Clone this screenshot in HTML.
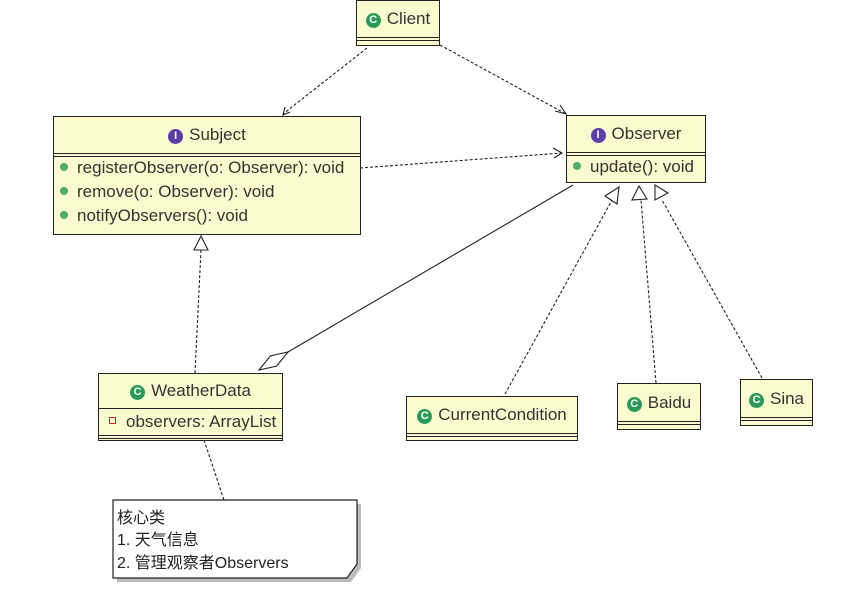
<!DOCTYPE html>
<html><head><meta charset="utf-8"><style>
body{margin:0;width:862px;height:609px;background:#fff;position:relative;overflow:hidden;font-family:"Liberation Sans","Noto Sans CJK SC",sans-serif;color:#333}
.b{position:absolute;background:#fbfbd0;border:1.5px solid #222;box-sizing:border-box;font-size:17px}
.t{text-align:center;position:relative;white-space:nowrap}
.dl{position:absolute;left:0;right:0;height:2px;border-top:1.5px solid #222;border-bottom:1.5px solid #222}
.ic{display:inline-block;width:15px;height:15px;border-radius:50%;color:#fff;font-size:11px;font-weight:bold;line-height:15px;text-align:center;vertical-align:1px;margin-right:6px}
.g{background:#2a9a58}.p{background:#5b3fa8}
.m{padding-left:6px;line-height:24px;white-space:nowrap}
.m i{display:inline-block;width:8px;height:8px;border-radius:50%;background:#4caf6a;margin-right:9px;vertical-align:2px}
</style></head><body>
<svg width="862" height="609" style="position:absolute;left:0;top:0">
<g stroke="#222" stroke-width="1.1" fill="none" stroke-dasharray="3,2">
<path d="M367 48 L283 114"/><path d="M440 45 L566 114"/><path d="M360 168 L562 153"/>
<path d="M195 373 L201 250"/><path d="M505 394 L612 200"/><path d="M656 383 L641 200"/><path d="M762 378 L662 200"/>
<path d="M204 440 L224 500"/>
</g>
<g stroke="#222" stroke-width="1.1" fill="none">
<path d="M290 112 L283 115 L285 107"/><path d="M555 111 L566 114 L560 105"/><path d="M553 148 L562 153 L554 158"/>
<path d="M573 185 L288 352"/>
<path d="M288 352 L276.6 366.1 L259 370 L270.4 355.9 Z" fill="#fff"/>
<path d="M201 236 L194 250 L208 250 Z" fill="#fff"/>
<path d="M619 187 L605 196 L617 204 Z" fill="#fff"/>
<path d="M639 186 L632 200 L647 199 Z" fill="#fff"/>
<path d="M655 185 L655 200 L668 193 Z" fill="#fff"/>
</g>
<path d="M117 504 L361 504 L361 568 L351 582 L117 582 Z" fill="#bbb"/>
<path d="M113 500 L357 500 L357 564 L347 578 L113 578 Z" fill="#fff" stroke="#222" stroke-width="1.2"/>
<g font-size="16" fill="#222" font-family="Liberation Sans,Noto Sans CJK SC,sans-serif">
<text x="117" y="523">核心类</text>
<text x="117" y="545">1. 天气信息</text>
<text x="117" y="568">2. 管理观察者Observers</text>
</g>
</svg>
<div class="b" style="left:356px;top:0;width:84px;height:46px"><div class="t" style="line-height:36px"><span class="ic g">C</span>Client</div><div class="dl" style="top:36px"></div></div>
<div class="b" style="left:53px;top:116px;width:308px;height:119px"><div class="t" style="line-height:36px"><span class="ic p">I</span>Subject</div><div class="dl" style="top:36px"></div><div style="margin-top:3px"><div class="m"><i></i>registerObserver(o: Observer): void</div><div class="m"><i></i>remove(o: Observer): void</div><div class="m"><i></i>notifyObservers(): void</div></div></div>
<div class="b" style="left:566px;top:115px;width:140px;height:68px"><div class="t" style="line-height:36px"><span class="ic p">I</span>Observer</div><div class="dl" style="top:36px"></div><div style="margin-top:3px"><div class="m" style="padding-left:6px"><i></i>update(): void</div></div></div>
<div class="b" style="left:98px;top:373px;width:185px;height:68px"><div class="t" style="line-height:34px"><span class="ic g">C</span>WeatherData</div><div style="border-top:1.5px solid #222;line-height:26px;padding-left:10px;white-space:nowrap"><span style="display:inline-block;width:5px;height:5px;border:1px solid #c22;margin-right:10px;vertical-align:3px"></span>observers: ArrayList</div><div class="dl" style="top:61px"></div></div>
<div class="b" style="left:406px;top:396px;width:172px;height:45px"><div class="t" style="line-height:36px"><span class="ic g">C</span>CurrentCondition</div><div class="dl" style="top:36px"></div></div>
<div class="b" style="left:617px;top:383px;width:84px;height:47px"><div class="t" style="line-height:38px"><span class="ic g">C</span>Baidu</div><div class="dl" style="top:37px"></div></div>
<div class="b" style="left:740px;top:379px;width:73px;height:47px"><div class="t" style="line-height:38px"><span class="ic g">C</span>Sina</div><div class="dl" style="top:37px"></div></div>
</body></html>
